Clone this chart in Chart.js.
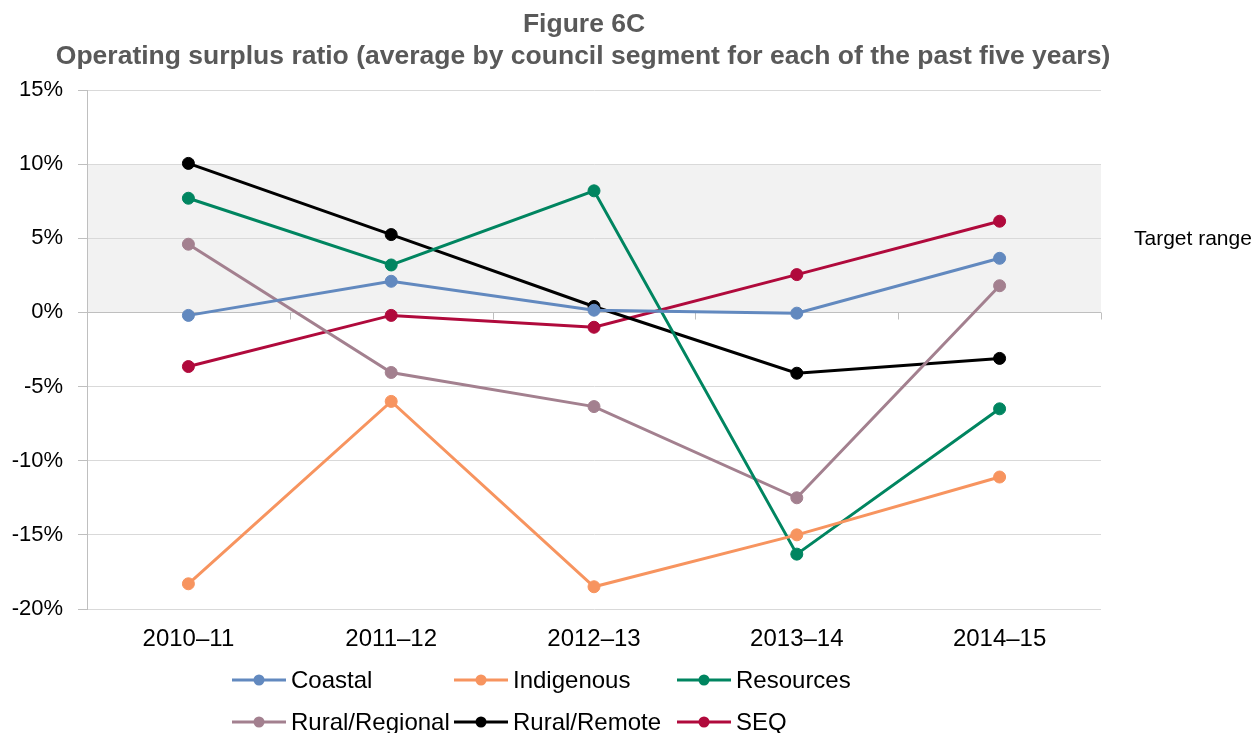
<!DOCTYPE html>
<html>
<head>
<meta charset="utf-8">
<script src="https://cdn.jsdelivr.net/npm/chart.js@4/dist/chart.umd.min.js"></script>
<style>
  html, body { margin: 0; padding: 0; background: #ffffff; }
  canvas { display: block; }
</style>
</head>
<body>
<canvas id="chart" width="1257" height="733"></canvas>
<script>
// Operating surplus ratio (%), average by council segment
const years = ['2010–11', '2011–12', '2012–13', '2013–14', '2014–15'];
const coastal       = [-0.2, 2.1, 0.15, -0.05, 3.65];
const indigenous    = [-18.3, -6.0, -18.5, -15.0, -11.1];
const resources     = [7.7, 3.2, 8.2, -16.3, -6.5];
const ruralRegional = [4.6, -4.05, -6.35, -12.5, 1.8];
const ruralRemote   = [10.05, 5.25, 0.4, -4.1, -3.1];
const seq           = [-3.65, -0.2, -1.0, 2.55, 6.15];
const yTickValues   = [-20, -15, -10, -5, 0, 5, 10, 15];
const targetRange   = [0, 10];

const FONT = '"Liberation Sans", Arial, sans-serif';

function series(label, data, color) {
  return {
    label, data,
    borderColor: color, backgroundColor: color,
    pointBackgroundColor: color, pointBorderColor: color,
    borderWidth: 3, pointRadius: 6, pointBorderWidth: 1,
    tension: 0, fill: false
  };
}

// Shaded target band behind the grid
const targetBand = {
  id: 'targetBand',
  beforeDraw(chart) {
    const { ctx, chartArea: a, scales: { y } } = chart;
    const top = y.getPixelForValue(targetRange[1]);
    const bottom = y.getPixelForValue(targetRange[0]);
    ctx.save();
    ctx.fillStyle = '#f2f2f2';
    ctx.fillRect(a.left, top, a.right - a.left, bottom - top);
    ctx.restore();
  }
};

// Category-boundary tick marks hanging from the zero line
const zeroAxisTicks = {
  id: 'zeroAxisTicks',
  beforeDatasetsDraw(chart) {
    const { ctx, scales: { x, y } } = chart;
    const y0 = Math.round(y.getPixelForValue(0)) + 0.5;
    ctx.save();
    ctx.strokeStyle = '#bfbfbf';
    ctx.lineWidth = 1;
    ctx.beginPath();
    for (let i = 0; i <= years.length; i++) {
      const px = Math.round(x.getPixelForValue(i - 0.5)) + 0.5;
      ctx.moveTo(px, y0);
      ctx.lineTo(px, y0 + 7);
    }
    ctx.stroke();
    ctx.restore();
  }
};

// Titles, side label and the two-row legend
const annotations = {
  id: 'annotations',
  afterDraw(chart) {
    const { ctx, scales: { y } } = chart;
    ctx.save();
    ctx.fillStyle = '#595959';
    ctx.textAlign = 'center';
    ctx.textBaseline = 'middle';
    ctx.font = 'bold 26.5px ' + FONT;
    ctx.fillText('Figure 6C', 584, 25);
    ctx.fillText('Operating surplus ratio (average by council segment for each of the past five years)', 583, 57);

    ctx.fillStyle = '#000000';
    ctx.textAlign = 'left';
    ctx.font = '21px ' + FONT;
    ctx.fillText('Target range', 1134, y.getPixelForValue(5) + 1);

    const cols = [232, 454, 677];
    const rows = [680, 722];
    ctx.font = '24px ' + FONT;
    chart.data.datasets.forEach((ds, i) => {
      const x0 = cols[i % 3];
      const yy = rows[Math.floor(i / 3)];
      ctx.strokeStyle = ds.borderColor;
      ctx.lineWidth = 3;
      ctx.beginPath();
      ctx.moveTo(x0, yy);
      ctx.lineTo(x0 + 54, yy);
      ctx.stroke();
      ctx.fillStyle = ds.borderColor;
      ctx.beginPath();
      ctx.arc(x0 + 27, yy, 5.5, 0, Math.PI * 2);
      ctx.fill();
      ctx.fillStyle = '#000000';
      ctx.fillText(ds.label, x0 + 59, yy + 1);
    });
    ctx.restore();
  }
};

new Chart(document.getElementById('chart'), {
  type: 'line',
  data: {
    labels: years,
    datasets: [
      series('Coastal', coastal, '#6289bf'),
      series('Indigenous', indigenous, '#f7945f'),
      series('Resources', resources, '#008560'),
      series('Rural/Regional', ruralRegional, '#a3808f'),
      series('Rural/Remote', ruralRemote, '#000000'),
      series('SEQ', seq, '#b00a3c')
    ]
  },
  options: {
    responsive: false,
    devicePixelRatio: 1,
    animation: false,
    layout: { padding: { top: 90, right: 156, bottom: 0, left: 0 } },
    plugins: {
      legend: { display: false },
      title: { display: false },
      tooltip: { enabled: false }
    },
    scales: {
      x: {
        type: 'category',
        offset: true,
        grid: { display: false, drawTicks: false },
        border: { display: false },
        ticks: { color: '#000000', font: { family: FONT, size: 24 }, padding: 16, maxRotation: 0 },
        afterFit(scale) { scale.height = 124; }
      },
      y: {
        min: -20, max: 15,
        afterBuildTicks(scale) { scale.ticks = yTickValues.map(v => ({ value: v })); },
        grid: {
          color: ctx => (ctx.tick && ctx.tick.value === 0) ? '#bfbfbf' : '#d9d9d9',
          tickColor: '#bfbfbf', tickLength: 9, lineWidth: 1
        },
        border: { display: true, color: '#bfbfbf' },
        ticks: {
          color: '#000000', font: { family: FONT, size: 22 }, padding: 15,
          callback: v => v + '%'
        },
        afterFit(scale) { scale.width = 87; }
      }
    }
  },
  plugins: [targetBand, zeroAxisTicks, annotations]
});
</script>
</body>
</html>
